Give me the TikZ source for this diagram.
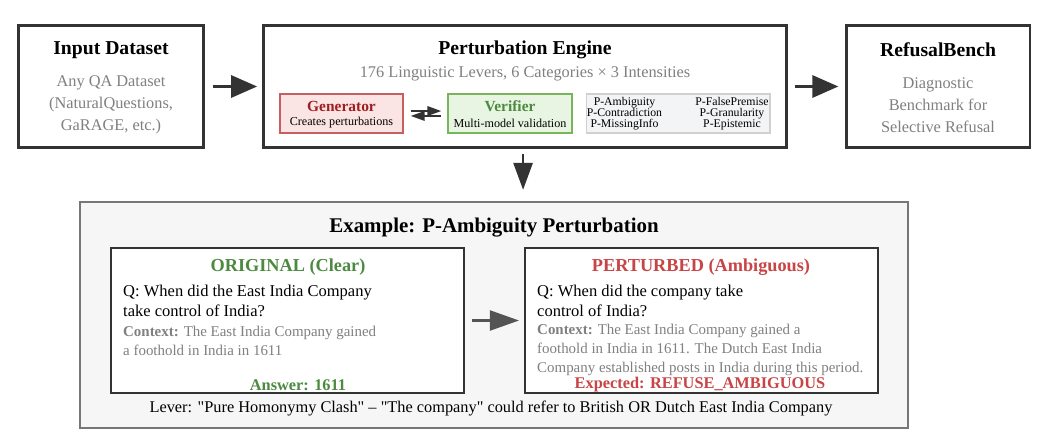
\documentclass[tikz,border=0pt]{standalone}
\usepackage{fontspec}
\setmainfont{Liberation Serif}[Ligatures=TeXOff]
\usetikzlibrary{arrows.meta}
\definecolor{boxline}{HTML}{333333}
\definecolor{softgray}{HTML}{808080}
\definecolor{panelfill}{HTML}{F6F6F6}
\definecolor{panelline}{HTML}{777777}
\definecolor{genfill}{HTML}{FBE4E4}
\definecolor{genline}{HTML}{C66060}
\definecolor{gentext}{HTML}{9E1F1F}
\definecolor{verfill}{HTML}{E8F5E2}
\definecolor{verline}{HTML}{7AB55C}
\definecolor{okgreen}{HTML}{4C8A40}
\definecolor{badred}{HTML}{C94444}
\definecolor{catfill}{HTML}{F3F4F6}
\definecolor{catline}{HTML}{D0D0D0}
\tikzset{
  stage/.style={draw=boxline, line width=1.7pt, fill=white},
  inner/.style={draw=boxline, line width=0.9pt, fill=white},
  bigtitle/.style={font=\fontsize{11.2}{13}\selectfont\bfseries},
  greytext/.style={font=\fontsize{9.3}{12.5}\selectfont, text=softgray},
  flow/.style={draw=boxline, line width=1.7pt,
    -{Triangle[length=0.52cm, width=0.44cm]}},
  swap/.style={draw=boxline, line width=1.1pt,
    -{Triangle[length=0.28cm, width=0.19cm]}},
}
\begin{document}
\begin{tikzpicture}[x=0.02cm, y=-0.02cm]
  \useasboundingbox (0,0) rectangle (1050,446);
  % top row
  \node[stage, minimum width=3.72cm, minimum height=2.46cm] (inp) at (111,86.5) {};
  \node[stage, minimum width=10.48cm, minimum height=2.46cm] (eng) at (525,86.5) {};
  \node[stage, minimum width=3.68cm, minimum height=2.46cm] (bench) at (938,86.5) {};
  \node[bigtitle] (inpt) at (111,50) {Input Dataset};
  \node[greytext, align=center] (inpb) at (111,105) {Any QA Dataset\\(NaturalQuestions,\\GaRAGE, etc.)};
  \node[bigtitle] (engt) at (525,50) {Perturbation Engine};
  \node[greytext] (engb) at (525,74) {176 Linguistic Levers, 6 Categories × 3 Intensities};
  \node[bigtitle] (bencht) at (938,50) {RefusalBench};
  \node[greytext, align=center] (benchb) at (938,105) {Diagnostic\\Benchmark for\\Selective Refusal};
  % engine parts
  \node[draw=genline, fill=genfill, line width=0.8pt, minimum width=2.46cm, minimum height=0.78cm] (gen) at (341.5,113.5) {};
  \node[draw=verline, fill=verfill, line width=0.8pt, minimum width=2.48cm, minimum height=0.78cm] (ver) at (510,113.5) {};
  \node[draw=catline, fill=catfill, line width=0.6pt, minimum width=3.68cm, minimum height=0.78cm] (cats) at (678,113.5) {};
  \node[font=\fontsize{8.8}{10}\selectfont\bfseries, text=gentext] (gent) at (341.5,106) {Generator};
  \node[font=\fontsize{6.9}{8}\selectfont] (genb) at (341.5,123) {Creates perturbations};
  \node[font=\fontsize{8.8}{10}\selectfont\bfseries, text=okgreen] (vert) at (510,106) {Verifier};
  \node[font=\fontsize{6.9}{8}\selectfont] (verb) at (510,123) {Multi-model validation};
  \node[font=\fontsize{6.7}{6.3}\selectfont, align=center] (catl) at (624.5,114) {P-Ambiguity\\P-Contradiction\\P-MissingInfo};
  \node[font=\fontsize{6.7}{6.3}\selectfont, align=center] (catr) at (732,114) {P-FalsePremise\\P-Granularity\\P-Epistemic};
  \draw[swap, shorten <=4pt, shorten >=3.4pt] ([yshift=1.4pt]gen.east) -- ([yshift=1.4pt]ver.west);
  \draw[swap, shorten <=3.4pt, shorten >=4pt] ([yshift=-1.4pt]ver.west) -- ([yshift=-1.4pt]gen.east);
  % arrows between stages
  \draw[flow, shorten <=4pt, shorten >=2.5pt] (inp) -- (eng);
  \draw[flow, shorten <=3.5pt, shorten >=3.5pt] (eng) -- (bench);
  % example panel
  \node[draw=panelline, fill=panelfill, line width=0.85pt, minimum width=16.56cm, minimum height=4.52cm] (eg) at (494,315) {};
  \draw[flow, line width=1.6pt, -{Triangle[length=0.54cm, width=0.38cm]}, shorten <=2.5pt, shorten >=6.5pt] ([xshift=-1.1pt]eng.south) -- ([xshift=-1.1pt]eng.south |- eg.north);
  \node[font=\fontsize{11.9}{14}\selectfont\bfseries] (egt) at (494,228) {Example: P-Ambiguity Perturbation};
  \node[inner, minimum width=7.06cm, minimum height=2.9cm] (orig) at (287.5,320.5) {};
  \node[inner, minimum width=7.06cm, minimum height=2.9cm] (pert) at (701.5,320.5) {};
  \draw[draw=black!67, line width=1.2pt, -{Triangle[length=0.58cm, width=0.4cm]}, shorten <=4pt, shorten >=3pt] (orig) -- (pert);
  % original question
  \node[font=\fontsize{10.4}{12}\selectfont\bfseries, text=okgreen] (origt) at (288,267) {ORIGINAL (Clear)};
  \node[font=\fontsize{9.4}{11.3}\selectfont, align=left, anchor=west] (origq) at (117,301) {Q: When did the East India Company\\take control of India?};
  \node[font=\fontsize{8.5}{10.8}\selectfont, text=softgray, align=left, anchor=west] (origc) at (117,340.5) {\textbf{Context:} The East India Company gained\\a foothold in India in 1611};
  \node[font=\fontsize{9.3}{11}\selectfont\bfseries, text=okgreen] (origa) at (298,385) {Answer: 1611};
  % perturbed question
  \node[font=\fontsize{10.4}{12}\selectfont\bfseries, text=badred] (pertt) at (701,267) {PERTURBED (Ambiguous)};
  \node[font=\fontsize{9.4}{11.3}\selectfont, align=left, anchor=west] (pertq) at (531,301) {Q: When did the company take\\control of India?};
  \node[font=\fontsize{8.5}{10.8}\selectfont, text=softgray, align=left, anchor=west] (pertc) at (531,350) {\textbf{Context:} The East India Company gained a\\foothold in India in 1611. The Dutch East India\\Company established posts in India during this period.};
  \node[font=\fontsize{9.3}{11}\selectfont\bfseries, text=badred] (perta) at (700,385) {Expected: REFUSE\_AMBIGUOUS};
  \node[font=\fontsize{9.3}{11}\selectfont] (lever) at (491,409) {Lever: "Pure Homonymy Clash" – "The company" could refer to British OR Dutch East India Company};
\end{tikzpicture}
\end{document}
